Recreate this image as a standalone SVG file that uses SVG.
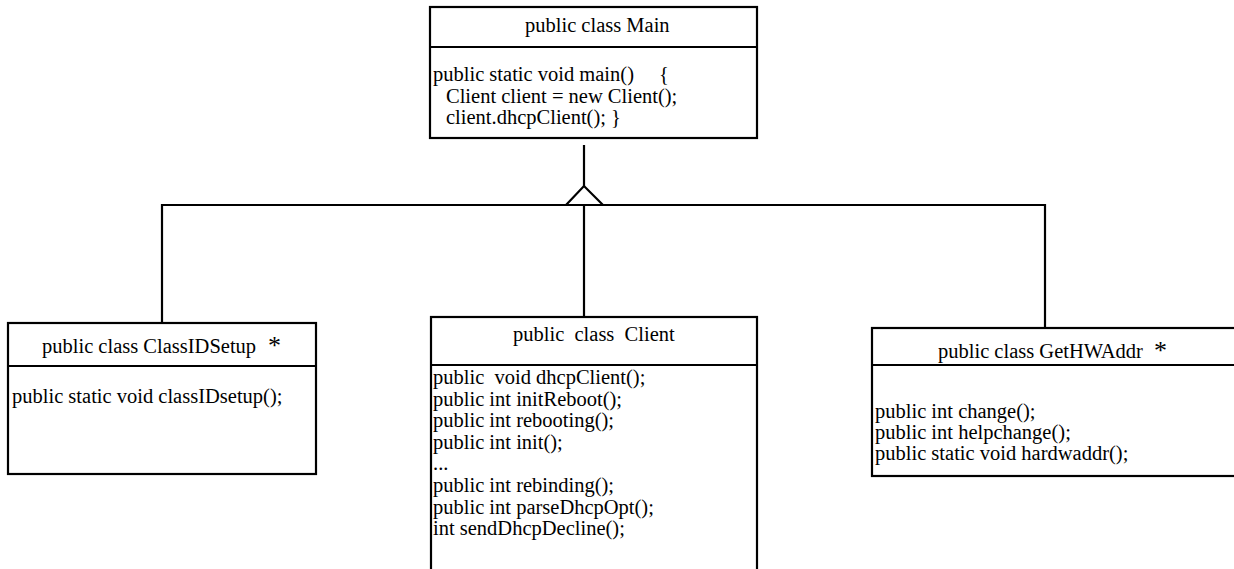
<svg xmlns="http://www.w3.org/2000/svg" width="1234" height="569" viewBox="0 0 1234 569">
<style>
.box{fill:#fff;stroke:#000;stroke-width:2.2}
.ln{stroke:#000;stroke-width:2.2;fill:none}
.t{font-family:"Liberation Serif","Times New Roman",serif;font-size:20.5px;fill:#000}
.ast{font-family:"Liberation Serif","Times New Roman",serif;font-size:26px;fill:#000}
</style>
<rect width="1234" height="569" fill="#fff"/>
<g id="connectors">
<line class="ln" x1="584" y1="145" x2="584" y2="186"/>
<polyline class="ln" points="566,205 584,186 603,205"/>
<line class="ln" x1="162" y1="205" x2="1045" y2="205"/>
<line class="ln" x1="584" y1="205" x2="584" y2="317"/>
<line class="ln" x1="162" y1="204" x2="162" y2="323"/>
<line class="ln" x1="1045" y1="204" x2="1045" y2="328"/>
</g>
<g id="main">
<rect class="box" x="430" y="7" width="327" height="131"/>
<line class="ln" x1="430" y1="47" x2="757" y2="47"/>
<text class="t" x="525" y="32">public class Main</text>
<text class="t" x="433" y="81">public static void main()</text>
<text class="t" x="659" y="81">{</text>
<text class="t" x="446" y="103">Client client = new Client();</text>
<text class="t" x="446" y="124">client.dhcpClient(); }</text>
</g>
<g id="classidsetup">
<rect class="box" x="8" y="323" width="308" height="151"/>
<line class="ln" x1="8" y1="366" x2="316" y2="366"/>
<text class="t" x="42" y="353">public class ClassIDSetup</text>
<text class="ast" x="268" y="354">*</text>
<text class="t" x="12" y="403">public static void classIDsetup();</text>
</g>
<g id="client">
<rect class="box" x="431" y="317" width="326" height="270"/>
<line class="ln" x1="431" y1="365" x2="757" y2="365"/>
<text class="t" x="513" y="341" xml:space="preserve">public  class  Client</text>
<text class="t" x="433" y="384" xml:space="preserve">public  void dhcpClient();</text>
<text class="t" x="433" y="406">public int initReboot();</text>
<text class="t" x="433" y="427">public int rebooting();</text>
<text class="t" x="433" y="449">public int init();</text>
<text class="t" x="433" y="470">...</text>
<text class="t" x="433" y="492">public int rebinding();</text>
<text class="t" x="433" y="514">public int parseDhcpOpt();</text>
<text class="t" x="433" y="535">int sendDhcpDecline();</text>
</g>
<g id="gethwaddr">
<rect class="box" x="872" y="328" width="380" height="148"/>
<line class="ln" x1="872" y1="365" x2="1252" y2="365"/>
<text class="t" x="938" y="358">public class GetHWAddr</text>
<text class="ast" x="1154" y="359">*</text>
<text class="t" x="875" y="418">public int change();</text>
<text class="t" x="875" y="439">public int helpchange();</text>
<text class="t" x="875" y="460">public static void hardwaddr();</text>
</g>
</svg>
